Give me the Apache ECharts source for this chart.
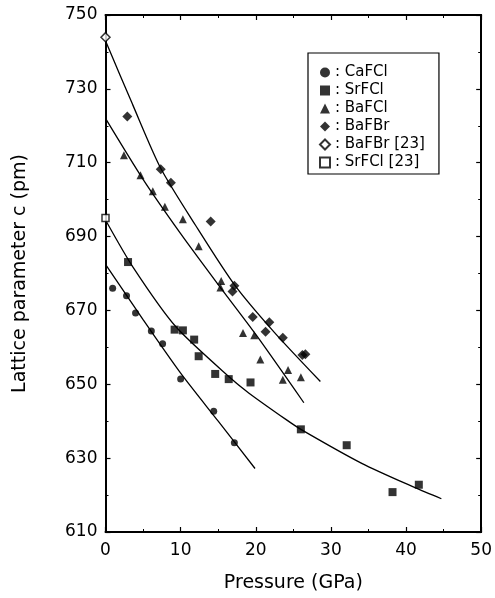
<!DOCTYPE html>
<html>
<head>
<meta charset="utf-8">
<style>
html,body{margin:0;padding:0;background:#fff;}
#chart{width:495px;height:598px;}
</style>
<script src="https://cdn.jsdelivr.net/npm/echarts@6/dist/echarts.min.js"></script>
</head>
<body>
<div id="chart"></div>
<script>
// ---- data (pressure GPa, lattice parameter c pm) ----
const caFCl = [[0.95,676.0],[2.8,674.0],[4.0,669.3],[6.1,664.4],[7.6,661.0],[10.0,651.4],[14.4,642.7],[17.15,634.2]];
const srFCl = [[3.0,683.1],[9.2,664.8],[10.3,664.6],[11.8,662.1],[12.4,657.6],[14.6,652.8],[16.4,651.4],[19.3,650.5],[26.0,637.8],[32.1,633.5],[38.2,620.8],[41.7,622.8]];
const baFCl = [[2.45,712.0],[4.66,706.6],[6.3,702.3],[7.9,698.1],[10.3,694.7],[12.4,687.4],[15.4,678.0],[15.3,676.2],[18.3,663.9],[19.8,663.3],[20.6,656.7],[24.3,653.9],[23.6,651.2],[26.0,651.9]];
const baFBr = [[2.9,722.5],[7.35,708.2],[8.7,704.6],[14.0,694.1],[17.15,676.7],[16.9,675.1],[19.6,668.2],[21.8,666.8],[21.3,664.2],[23.6,662.6],[26.2,657.9],[26.6,658.1]];
const baFBrRef = [[0,744]];
const srFClRef = [[0,695]];

// fitted curves
const caFit = [[0,682.5],[5,667.5],[10,653],[15,640],[19.9,627.2]];
const srFit = [[0,694.5],[3.7,681.6],[9.4,665.5],[16.9,651.2],[19.1,647.6],[24,640.5],[26,637.8],[34.1,628.6],[41.2,622.0],[44.7,619.0]];
const baClFit = [[0,722],[5,705.5],[10,690.8],[15,677],[20,663.5],[26.4,645]];
const baBrFit = [[0,743],[3.6,725.8],[7.35,708.5],[12,693],[17.15,677],[22.5,664],[28.6,650.75]];

const xTicks = {min:0, max:50, interval:10};
const yTicks = {min:610, max:750, interval:20};

const names = ['CaFCl','SrFCl','BaFCl','BaFBr','BaFBr [23]','SrFCl [23]'];

const font = 'DejaVu Sans';
const chart = echarts.init(document.getElementById('chart'), null, {renderer:'canvas'});

function axisCommon(showLabel){
  return {
    axisLine:{show:true, onZero:false, lineStyle:{color:'#000', width:2}},
    axisTick:{show:true, inside:true, length:5, lineStyle:{color:'#000', width:1.2}},
    minorTick:{show:true, splitNumber:2, length:3, lineStyle:{color:'#000', width:1}},
    splitLine:{show:false},
    axisLabel:{show:showLabel, color:'#000', fontFamily:font, fontSize:17}
  };
}

function scatter(name, data, symbol, size, filled){
  return {
    name:name, type:'scatter', data:data, symbol:symbol, symbolSize:size,
    itemStyle: filled ? {color:'#000'} : {color:'#fff', borderColor:'#000', borderWidth:1.5},
    z:5
  };
}
function fit(data){
  return {type:'line', data:data, smooth:0.25, showSymbol:false, symbol:'none',
    lineStyle:{color:'#000', width:1.3}, silent:true, z:3};
}

chart.setOption({
  animation:false,
  backgroundColor:'#fff',
  grid:{left:105.5, right:12, top:15, bottom:61, containLabel:false},
  legend:{
    data:names, orient:'vertical', left:308, top:53,
    borderColor:'#000', borderWidth:1.2, padding:[12,14,4,11],
    itemGap:3, itemWidth:10, itemHeight:10,
    formatter:': {name}',
    textStyle:{fontFamily:font, fontSize:15, color:'#000', lineHeight:15},
    selectedMode:false
  },
  xAxis:[
    Object.assign({type:'value', position:'bottom', min:xTicks.min, max:xTicks.max, interval:xTicks.interval,
      name:'Pressure (GPa)', nameLocation:'middle', nameGap:42,
      nameTextStyle:{fontFamily:font, fontSize:19, color:'#000'}}, axisCommon(true),
      {axisLabel:{show:true, color:'#000', fontFamily:font, fontSize:17, margin:10}}),
    Object.assign({type:'value', position:'top', min:xTicks.min, max:xTicks.max, interval:xTicks.interval}, axisCommon(false))
  ],
  yAxis:[
    Object.assign({type:'value', position:'left', min:yTicks.min, max:yTicks.max, interval:yTicks.interval,
      name:'Lattice parameter c (pm)', nameLocation:'middle', nameGap:76,
      nameTextStyle:{fontFamily:font, fontSize:19, color:'#000'}}, axisCommon(true),
      {axisLabel:{show:true, color:'#000', fontFamily:font, fontSize:17, margin:8}}),
    Object.assign({type:'value', position:'right', min:yTicks.min, max:yTicks.max, interval:yTicks.interval}, axisCommon(false))
  ],
  series:[
    fit(caFit), fit(srFit), fit(baClFit), fit(baBrFit),
    scatter('CaFCl', caFCl, 'circle', 7, true),
    scatter('SrFCl', srFCl, 'rect', 8, true),
    scatter('BaFCl', baFCl, 'triangle', 8, true),
    scatter('BaFBr', baFBr, 'diamond', 10, true),
    scatter('BaFBr [23]', baFBrRef, 'diamond', 9, false),
    scatter('SrFCl [23]', srFClRef, 'rect', 7, false)
  ]
});
</script>
</body>
</html>
